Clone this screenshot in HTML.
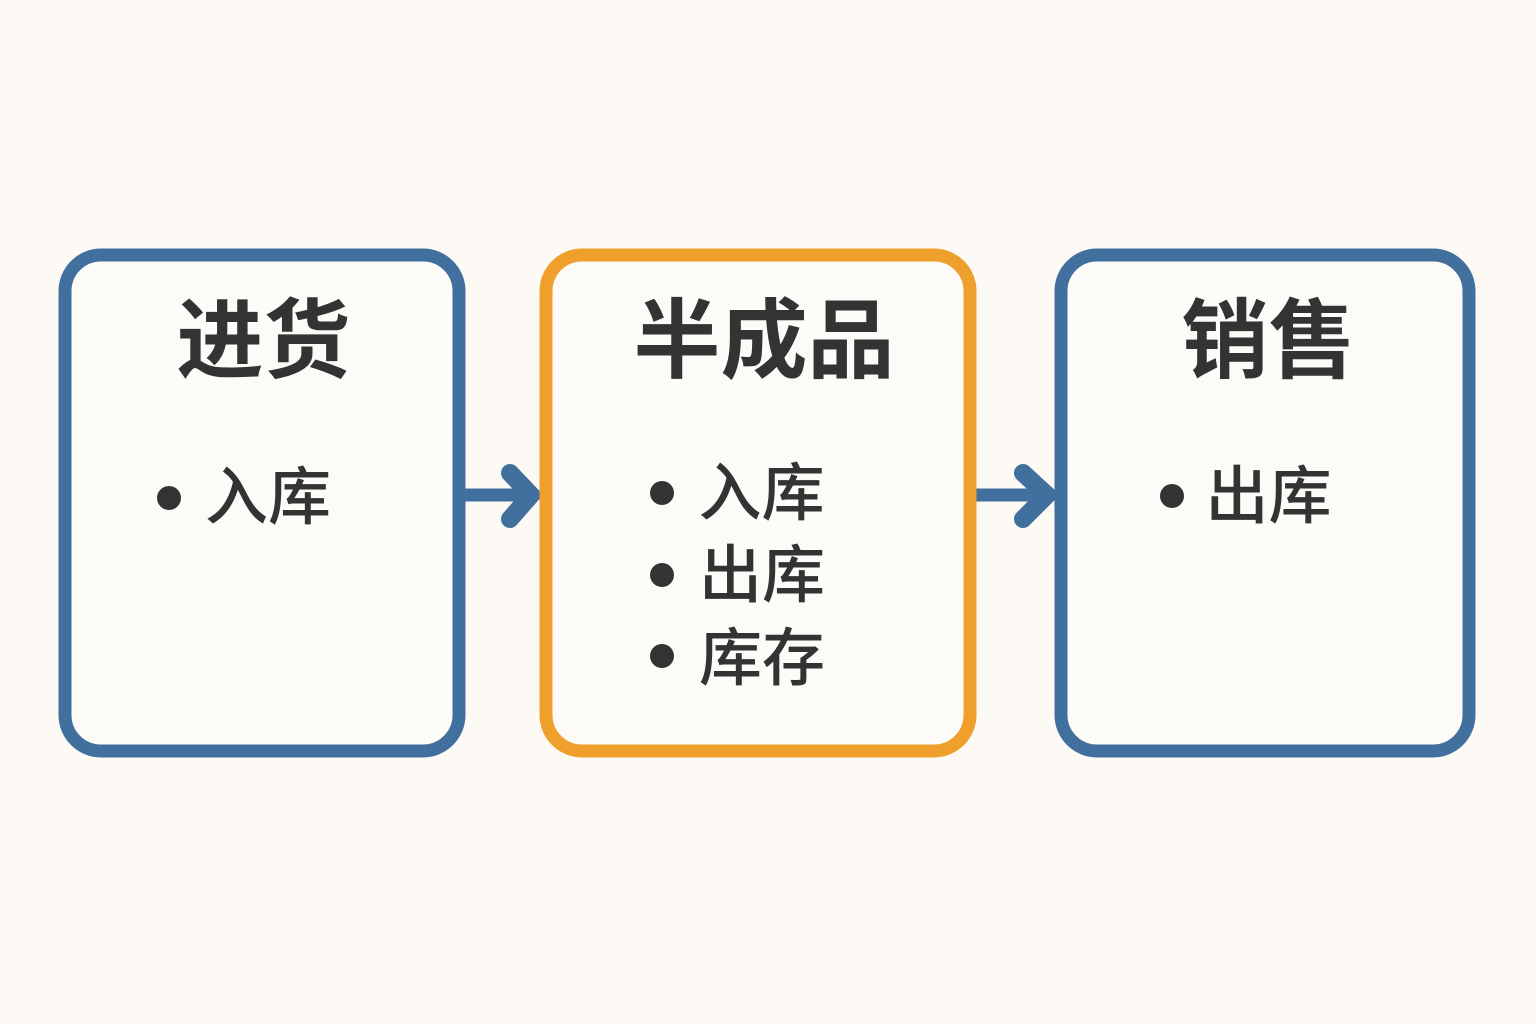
<!DOCTYPE html>
<html lang="zh">
<head>
<meta charset="utf-8">
<style>
html,body{margin:0;padding:0;background:#fdfaf5;}
svg{display:block;}
text{font-family:"Liberation Sans","Noto Sans CJK SC",sans-serif;fill:#333333;}
.t{font-size:87px;font-weight:700;text-anchor:middle;}
.i{font-size:63px;font-weight:500;text-anchor:middle;}
</style>
</head>
<body>
<svg width="1536" height="1024" viewBox="0 0 1536 1024" xmlns="http://www.w3.org/2000/svg">
<rect width="1536" height="1024" fill="#fdfaf5"/>
<g stroke="#41709f" fill="none" stroke-linejoin="miter">
<path d="M460 495H530" stroke-width="13"/>
<path d="M510 473L531 495L510 519" stroke-width="18" stroke-linecap="round"/>
<path d="M972 495H1045" stroke-width="13"/>
<path d="M1023 473L1047 495L1023 519" stroke-width="18" stroke-linecap="round"/>
</g>
<rect x="65" y="255" width="394" height="496" rx="36" fill="#fdfbf7" stroke="#41709f" stroke-width="13"/>
<rect x="546" y="255" width="424" height="496" rx="36" fill="#fdfbf7" stroke="#ef9f2c" stroke-width="13"/>
<rect x="1061" y="255" width="408" height="496" rx="36" fill="#fdfbf7" stroke="#41709f" stroke-width="13"/>
<text class="t" x="263.5" y="371">进货</text>
<text class="t" x="764" y="371">半成品</text>
<text class="t" x="1268.5" y="371">销售</text>
<circle cx="169" cy="498" r="12" fill="#333"/>
<text class="i" x="268" y="519">入库</text>
<circle cx="662" cy="493" r="12" fill="#333"/>
<text class="i" x="761.5" y="515">入库</text>
<circle cx="662" cy="575" r="12" fill="#333"/>
<text class="i" x="762" y="597">出库</text>
<circle cx="662" cy="656" r="12" fill="#333"/>
<text class="i" x="762" y="680">库存</text>
<circle cx="1172" cy="496" r="12" fill="#333"/>
<text class="i" x="1268.5" y="518">出库</text>
</svg>
</body>
</html>
